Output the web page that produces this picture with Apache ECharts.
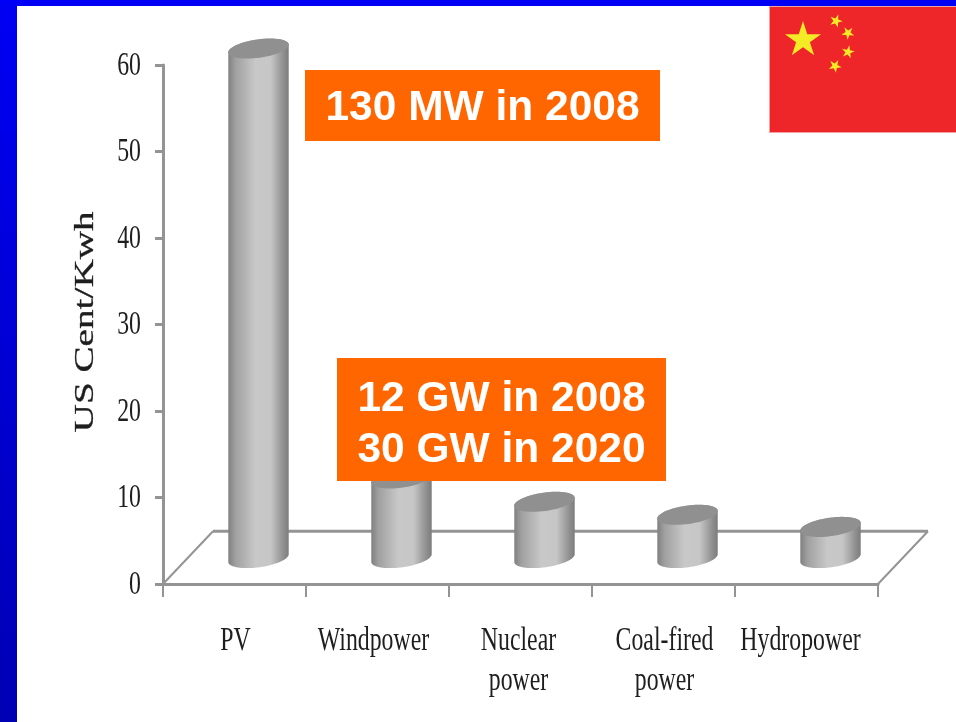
<!DOCTYPE html>
<html>
<head>
<meta charset="utf-8">
<style>html,body{margin:0;padding:0;background:#fff}#chart{width:956px;height:722px}</style>
<script src="https://cdn.jsdelivr.net/npm/echarts@6/dist/echarts.min.js"></script>
</head>
<body>
<div id="chart"></div>
<script>
// Generation cost by power source, US cents per kWh
const categories = ['PV', 'Windpower', 'Nuclear\npower', 'Coal-fired\npower', 'Hydropower'];
const costs = [58.9, 9.2, 6.5, 5, 3.6];
const yTicks = [0, 10, 20, 30, 40, 50, 60];
const yTitle = 'US Cent/Kwh';
const calloutPV = '130 MW in 2008';
const calloutWind = '12 GW in 2008\n30 GW in 2020';

const SERIF = '"Liberation Serif","Times New Roman",serif';
const INK = '#1e1e1e';
const AXIS = '#949494';
const FLOOR_DEPTH = 6.1;    // floor depth, in value-axis units
const FLOOR_SKEW = 50;      // horizontal shift of the back edge of the floor, px
const BAR_BASE = 3;         // cylinders stand this far up the floor, in value-axis units
const BAR_RX = 30.5, BAR_RY = 9.2, BAR_TILT = -8 * Math.PI / 180;

// Point on a tilted ellipse centred at (cx, cy)
function ellipsePoint(cx, cy, t) {
  const x = BAR_RX * Math.cos(t), y = BAR_RY * Math.sin(t);
  return [cx + x * Math.cos(BAR_TILT) - y * Math.sin(BAR_TILT),
          cy + x * Math.sin(BAR_TILT) + y * Math.cos(BAR_TILT)];
}
function ellipseArc(cx, cy, from, to, steps) {
  const pts = [];
  for (let i = 0; i <= steps; i++) pts.push(ellipsePoint(cx, cy, from + (to - from) * i / steps));
  return pts;
}

// Cylinder standing halfway back on the floor
function renderCylinder(params, api) {
  const value = api.value(1);
  const idx = api.value(0);
  const c = api.coord([idx, BAR_BASE]);
  const t = api.coord([idx, BAR_BASE + value]);
  const cx = c[0] + FLOOR_SKEW / 2 - 1;
  const top = t[1], base = c[1];
  // Lower rim, then back up to the far side of the top rim
  const body = ellipseArc(cx, base, Math.PI, 0, 40).concat(ellipseArc(cx, top, 0, -Math.PI, 40));
  return {
    type: 'group',
    children: [
      {
        type: 'polygon',
        shape: { points: body },
        style: {
          fill: {
            type: 'linear', x: 0, y: 0, x2: 1, y2: 0,
            colorStops: [
              { offset: 0, color: '#808080' },
              { offset: 0.12, color: '#a0a0a0' },
              { offset: 0.45, color: '#c8c8c8' },
              { offset: 0.7, color: '#c6c6c6' },
              { offset: 0.9, color: '#929292' },
              { offset: 1, color: '#7c7c7c' }
            ]
          }
        }
      },
      {
        type: 'polygon',
        shape: { points: ellipseArc(cx, top, 0, Math.PI * 2, 60) },
        style: { fill: '#909090' }
      }
    ]
  };
}

// Receding floor: side edges and back edge, hung off the category axis
function renderFloor(params, api) {
  const cs = params.coordSys;
  const backY = api.coord([0, FLOOR_DEPTH])[1];
  const frontY = api.coord([0, 0])[1];
  const l = cs.x, r = cs.x + cs.width;
  const line = (pts, w) => ({
    type: 'polyline',
    shape: { points: pts },
    style: { stroke: AXIS, lineWidth: w, fill: null }
  });
  return {
    type: 'group',
    children: [
      line([[l, frontY], [l + FLOOR_SKEW, backY]], 2),
      line([[l + FLOOR_SKEW, backY], [r + FLOOR_SKEW, backY]], 3),
      line([[r + FLOOR_SKEW, backY], [r, frontY]], 2)
    ]
  };
}

// Narrow serif labels under the category axis
const labelNudge = [1, -4, -2, 1, -6];
function renderCategoryLabel(params, api) {
  const i = api.value(0);
  const x = api.coord([i, 0])[0] + labelNudge[i];
  return {
    type: 'text',
    x: x,
    y: 621,
    scaleX: 0.7,
    style: {
      text: categories[i],
      font: '34px ' + SERIF,
      fill: INK,
      align: 'center',
      verticalAlign: 'top',
      lineHeight: 40
    }
  };
}

function renderValueLabel(params, api) {
  const v = api.value(0);
  return {
    type: 'text',
    x: params.coordSys.x - 22,
    y: api.coord([0, v])[1] + 1,
    scaleX: 0.7,
    style: {
      text: String(v),
      font: '34px ' + SERIF,
      fill: INK,
      align: 'right',
      verticalAlign: 'middle'
    }
  };
}

function renderTitle(params, api) {
  const cs = params.coordSys;
  return {
    type: 'text',
    x: cs.x - 77,
    y: cs.y + cs.height * 0.495,
    rotation: Math.PI / 2,
    scaleX: 1.4,
    style: {
      text: yTitle,
      font: '28px ' + SERIF,
      fill: INK,
      stroke: INK,
      lineWidth: 0.3,
      align: 'center',
      verticalAlign: 'middle'
    }
  };
}

// Five-pointed star outline
function starPoints(cx, cy, r, turn) {
  const pts = [];
  for (let i = 0; i < 10; i++) {
    const rad = i % 2 ? r * 0.382 : r;
    const a = -Math.PI / 2 + turn + i * Math.PI / 5;
    pts.push([cx + rad * Math.cos(a), cy + rad * Math.sin(a)]);
  }
  return pts;
}
const star = (cx, cy, r, turn) => ({
  type: 'polygon', z: 101,
  shape: { points: starPoints(cx, cy, r, turn) },
  style: { fill: '#f4ea26' }
});
const callout = (x, y, w, h, dy, text) => ({
  type: 'group', z: 100,
  children: [
    { type: 'rect', z: 100, shape: { x: x, y: y, width: w, height: h }, style: { fill: '#ff6600' } },
    {
      type: 'text', z: 101, x: x + w / 2, y: y + h / 2 + dy,
      style: {
        text: text,
        font: 'bold 42.5px "Liberation Sans",Arial,sans-serif',
        fill: '#fff',
        align: 'center',
        verticalAlign: 'middle',
        lineHeight: 51
      }
    }
  ]
});

const chart = echarts.init(document.getElementById('chart'), null, { renderer: 'canvas' });
chart.setOption({
  animation: false,
  backgroundColor: '#fff',
  grid: { left: 163, right: 78, top: 65, bottom: 138 },
  xAxis: {
    type: 'category',
    data: categories,
    axisLine: { lineStyle: { color: AXIS, width: 3 } },
    axisTick: { show: true, length: 13, lineStyle: { color: AXIS, width: 2 } },
    axisLabel: { show: false },
    splitLine: { show: false }
  },
  yAxis: {
    type: 'value',
    min: 0,
    max: 60,
    interval: 10,
    axisLine: { show: true, lineStyle: { color: AXIS, width: 3 } },
    axisTick: { show: true, length: 8, lineStyle: { color: AXIS, width: 3 } },
    axisLabel: { show: false },
    splitLine: { show: false }
  },
  series: [
    { type: 'custom', name: 'floor', z: 1, silent: true, renderItem: renderFloor, data: [0] },
    {
      type: 'custom', name: 'Cost', z: 2, renderItem: renderCylinder,
      encode: { x: 0, y: 1 },
      data: costs.map((v, i) => [i, v])
    },
    { type: 'custom', z: 3, silent: true, renderItem: renderCategoryLabel, data: categories.map((c, i) => [i]) },
    { type: 'custom', z: 3, silent: true, renderItem: renderValueLabel, data: yTicks.map(v => [v]) },
    { type: 'custom', z: 3, silent: true, renderItem: renderTitle, data: [0] }
  ],
  graphic: {
    elements: [
      // Slide frame: blue along the top and left edges
      { type: 'rect', z: 90, silent: true, shape: { x: 0, y: 0, width: 956, height: 6 }, style: { fill: '#0000f4' } },
      {
        type: 'rect', z: 90, silent: true,
        shape: { x: 0, y: 0, width: 17, height: 722 },
        style: {
          fill: {
            type: 'linear', x: 0, y: 0, x2: 0, y2: 1,
            colorStops: [{ offset: 0, color: '#0000f4' }, { offset: 1, color: '#0000b4' }]
          }
        }
      },
      callout(305, 70, 355, 71, 2.5, calloutPV),
      callout(337, 358, 329, 123, 5, calloutWind),
      // Flag of China
      { type: 'rect', z: 100, shape: { x: 769, y: 6, width: 187, height: 127 }, style: { fill: '#f0a0a0' } },
      { type: 'rect', z: 100, shape: { x: 770, y: 7, width: 186, height: 125 }, style: { fill: '#ee2529' } },
      star(803, 40, 19, 0),
      star(836, 21, 6.8, 0.35),
      star(848, 33, 6.8, 0.7),
      star(848, 52, 6.8, 0.2),
      star(835, 66, 6.8, 0.5)
    ]
  }
});
</script>
</body>
</html>
